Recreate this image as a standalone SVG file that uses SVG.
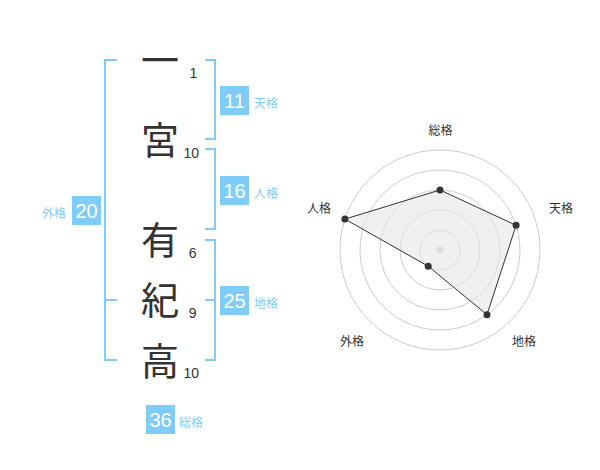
<svg xmlns="http://www.w3.org/2000/svg" width="600" height="470" viewBox="0 0 600 470">
<style>
.bg{fill:#fff}
.br{fill:none;stroke:#80ccf8;stroke-width:2}
.box{fill:#80ccf8}
.bn{font-family:"Liberation Sans",Arial,sans-serif;font-size:20px;fill:#fff;text-anchor:middle}
.bl{font-family:"Noto Sans CJK JP",sans-serif;font-size:12px;fill:#80ccf8}
.ch{font-family:"Noto Sans CJK JP",sans-serif;font-size:38px;fill:#333;text-anchor:middle}
.num{font-family:"Liberation Sans",Arial,sans-serif;font-size:14px;fill:#333}
.ring{fill:none;stroke:#ccc;stroke-width:1}
.rl{font-family:"Noto Sans CJK JP",sans-serif;font-size:12px;fill:#333;text-anchor:middle}
.pt{fill:#333}
</style>
<rect class="bg" width="600" height="470"/>
<g id="name">
<text class="ch" x="160" y="74">一</text>
<text class="ch" x="160" y="154">宮</text>
<text class="ch" x="160" y="254">有</text>
<text class="ch" x="160" y="314">紀</text>
<text class="ch" x="160" y="375">高</text>
<text class="num" x="189.5" y="78">1</text>
<text class="num" x="183.5" y="158">10</text>
<text class="num" x="188.7" y="257.5">6</text>
<text class="num" x="188.7" y="318">9</text>
<text class="num" x="183.5" y="378">10</text>
</g>
<g id="connectors">
<path class="br" d="M117,60H105V360H117M105,300H117"/>
<path class="br" d="M205,60H215V139H205"/>
<path class="br" d="M205,149H215V229H205"/>
<path class="br" d="M205,240H215V360H205M205,300H215"/>
</g>
<g id="tenkaku">
<rect class="box" x="220" y="86" width="29" height="29"/>
<text class="bn" x="234.5" y="108">11</text>
<text class="bl" x="254" y="108">天格</text>
</g>
<g id="jinkaku">
<rect class="box" x="220" y="176" width="29" height="29"/>
<text class="bn" x="234.5" y="198">16</text>
<text class="bl" x="254" y="198">人格</text>
</g>
<g id="chikaku">
<rect class="box" x="220" y="286" width="29" height="29"/>
<text class="bn" x="234.5" y="308">25</text>
<text class="bl" x="254" y="308">地格</text>
</g>
<g id="gaikaku">
<rect class="box" x="72" y="196" width="29" height="29"/>
<text class="bn" x="86.5" y="218">20</text>
<text class="bl" x="66" y="218" text-anchor="end">外格</text>
</g>
<g id="soukaku">
<rect class="box" x="146" y="405" width="29" height="29"/>
<text class="bn" x="160.5" y="427">36</text>
<text class="bl" x="179" y="427">総格</text>
</g>
<g id="radar">
<circle class="ring" cx="440" cy="250" r="20"/>
<circle class="ring" cx="440" cy="250" r="40"/>
<circle class="ring" cx="440" cy="250" r="60"/>
<circle class="ring" cx="440" cy="250" r="80"/>
<circle class="ring" cx="440" cy="250" r="100"/>
<circle cx="440" cy="250" r="3.5" fill="#ccc"/>
<polygon points="440,190 516.1,225.3 487,314.7 428.2,266.2 344.9,219.1" fill="#e6e6e6" fill-opacity="0.6" stroke="#333" stroke-width="1"/>
<circle class="pt" cx="440" cy="190" r="3.5"/>
<circle class="pt" cx="516.1" cy="225.3" r="3.5"/>
<circle class="pt" cx="487" cy="314.7" r="3.5"/>
<circle class="pt" cx="428.2" cy="266.2" r="3.5"/>
<circle class="pt" cx="344.9" cy="219.1" r="3.5"/>
<text class="rl" x="440.5" y="135">総格</text>
<text class="rl" x="561" y="213">天格</text>
<text class="rl" x="319" y="213">人格</text>
<text class="rl" x="352" y="346">外格</text>
<text class="rl" x="524" y="346">地格</text>
</g>
</svg>
